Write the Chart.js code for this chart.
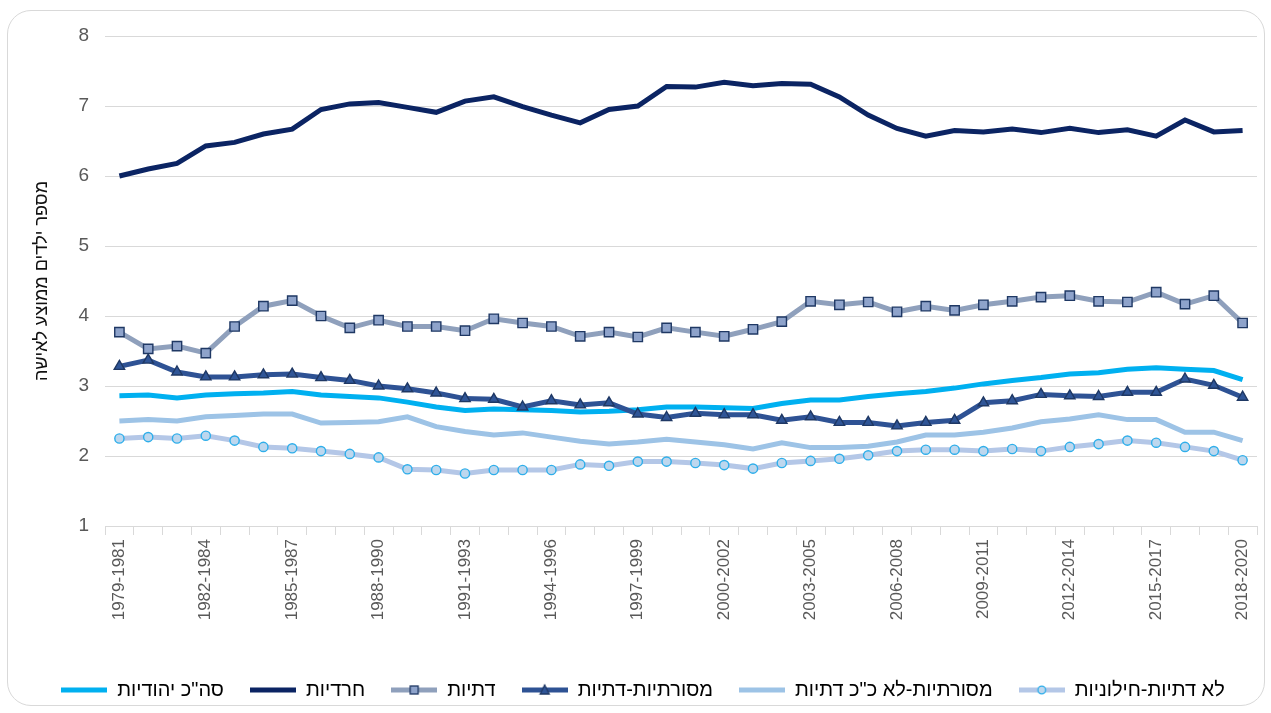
<!DOCTYPE html>
<html>
<head>
<meta charset="utf-8">
<script src="https://cdn.jsdelivr.net/npm/chart.js@4.4.1/dist/chart.umd.min.js"></script>
<style>
  html, body { margin: 0; padding: 0; background: #ffffff; }
  #card { position: absolute; left: 7px; top: 10px; width: 1258px; height: 696px; border: 1px solid #d9d9d9; border-radius: 24px; box-sizing: border-box; }
  #c { position: absolute; left: 0; top: 0; }
</style>
</head>
<body>
<div id="card"></div>
<canvas id="c" width="1271" height="713"></canvas>
<script>
const categories = [
  '1979-1981','1980-1982','1981-1983','1982-1984','1983-1985','1984-1986','1985-1987','1986-1988','1987-1989','1988-1990',
  '1989-1991','1990-1992','1991-1993','1992-1994','1993-1995','1994-1996','1995-1997','1996-1998','1997-1999','1998-2000',
  '1999-2001','2000-2002','2001-2003','2002-2004','2003-2005','2004-2006','2005-2007','2006-2008','2007-2009','2008-2010',
  '2009-2011','2010-2012','2011-2013','2012-2014','2013-2015','2014-2016','2015-2017','2016-2018','2017-2019','2018-2020'
];
const seriesNames = ['סה"כ יהודיות', 'חרדיות', 'דתיות', 'מסורתיות-דתיות', 'מסורתיות-לא כ"כ דתיות', 'לא דתיות-חילוניות'];
const totalJewish = [2.86,2.87,2.83,2.87,2.89,2.90,2.92,2.87,2.85,2.83,2.77,2.70,2.65,2.67,2.66,2.65,2.63,2.64,2.66,2.70,
                     2.70,2.69,2.68,2.75,2.80,2.80,2.85,2.89,2.92,2.97,3.03,3.08,3.12,3.17,3.19,3.24,3.26,3.24,3.22,3.09];
const haredi = [6.00,6.10,6.18,6.43,6.48,6.60,6.67,6.95,7.03,7.05,6.98,6.91,7.07,7.13,6.99,6.87,6.76,6.95,7.00,7.28,
                7.27,7.34,7.29,7.32,7.31,7.13,6.87,6.68,6.57,6.65,6.63,6.67,6.62,6.68,6.62,6.66,6.57,6.80,6.63,6.65];
const datiyot = [3.77,3.53,3.57,3.47,3.85,4.14,4.22,4.00,3.83,3.94,3.85,3.85,3.79,3.96,3.90,3.85,3.71,3.77,3.70,3.83,
                 3.77,3.71,3.81,3.92,4.21,4.16,4.20,4.06,4.14,4.08,4.16,4.21,4.27,4.29,4.21,4.20,4.34,4.17,4.29,3.90];
const masortiyotDatiyot = [3.28,3.37,3.20,3.13,3.13,3.16,3.17,3.12,3.08,3.00,2.96,2.90,2.82,2.81,2.70,2.79,2.73,2.76,2.60,2.55,
                           2.61,2.59,2.59,2.51,2.56,2.48,2.48,2.43,2.48,2.51,2.76,2.79,2.88,2.86,2.85,2.91,2.91,3.10,3.01,2.84];
const masortiyotLo = [2.50,2.52,2.50,2.56,2.58,2.60,2.60,2.47,2.48,2.49,2.56,2.42,2.35,2.30,2.33,2.27,2.21,2.17,2.20,2.24,
                      2.20,2.16,2.10,2.19,2.12,2.12,2.14,2.20,2.30,2.30,2.34,2.40,2.49,2.53,2.59,2.52,2.52,2.34,2.34,2.22];
const loDatiyot = [2.25,2.27,2.25,2.29,2.22,2.13,2.11,2.07,2.03,1.98,1.81,1.80,1.75,1.80,1.80,1.80,1.88,1.86,1.92,1.92,
                   1.90,1.87,1.82,1.90,1.93,1.96,2.01,2.07,2.09,2.09,2.07,2.10,2.07,2.13,2.17,2.22,2.19,2.13,2.07,1.94];
const yTicks = [1,2,3,4,5,6,7,8];
const yTitle = 'מספר ילדים ממוצע לאישה';

const FONT = '"Liberation Sans", Arial, "DejaVu Sans", sans-serif';

const styles = [
  {line:'#00B0F0', marker:'none'},
  {line:'#0B2463', marker:'none'},
  {line:'#8FA0BC', marker:'rect', fill:'#8EA3CB', border:'#1F3864', r:6.6},
  {line:'#2E5294', marker:'triangle', fill:'#2F5597', border:'#1F3864', r:6},
  {line:'#9DC3E6', marker:'none'},
  {line:'#B4C7E7', marker:'circle', fill:'#BDD7EE', border:'#2EAEEA', r:4.6}
];
const allData = [totalJewish, haredi, datiyot, masortiyotDatiyot, masortiyotLo, loDatiyot];

function legendImage(s) {
  const cv = document.createElement('canvas');
  cv.width = 46; cv.height = 16;
  const g = cv.getContext('2d');
  g.strokeStyle = s.line; g.lineWidth = 5; g.lineCap = 'butt';
  g.beginPath(); g.moveTo(0, 8); g.lineTo(46, 8); g.stroke();
  g.fillStyle = s.fill || s.line; g.strokeStyle = s.border || s.line; g.lineWidth = 1.3;
  if (s.marker === 'rect') { g.fillRect(19, 4, 8, 8); g.strokeRect(19, 4, 8, 8); }
  if (s.marker === 'triangle') { g.beginPath(); g.moveTo(23, 3); g.lineTo(27.5, 12); g.lineTo(18.5, 12); g.closePath(); g.fill(); g.stroke(); }
  if (s.marker === 'circle') { g.beginPath(); g.arc(23, 8, 3.8, 0, Math.PI*2); g.fill(); g.stroke(); }
  return cv;
}
const legendImgs = styles.map(legendImage);

const datasets = allData.map((d, i) => {
  const s = styles[i];
  return {
    label: seriesNames[i],
    data: d,
    borderColor: s.line,
    backgroundColor: s.line,
    borderWidth: 5,
    tension: 0,
    pointStyle: s.marker === 'none' ? false : s.marker,
    pointRadius: s.marker === 'none' ? 0 : s.r,
    pointBackgroundColor: s.fill || s.line,
    pointBorderColor: s.border || s.line,
    pointBorderWidth: 1.4,
    order: -i
  };
});

new Chart(document.getElementById('c'), {
  type: 'line',
  data: { labels: categories, datasets },
  options: {
    responsive: false,
    animation: false,
    layout: { padding: { left: 29, right: 14, top: 36, bottom: 3 } },
    scales: {
      x: {
        offset: true,
        grid: { offset: true, drawOnChartArea: false, drawTicks: true, tickLength: 9, color: '#d9d9d9' },
        border: { color: '#d9d9d9' },
        ticks: {
          autoSkip: false, minRotation: 90, maxRotation: 90, padding: 4,
          color: '#595959', font: { family: FONT, size: 17 },
          callback: (v, i) => (i % 3 === 0 ? categories[i] : '')
        },
        afterFit: (sc) => { sc.height = 128; }
      },
      y: {
        min: 1, max: 8,
        afterBuildTicks: (sc) => { sc.ticks = yTicks.map(v => ({ value: v })); },
        afterFit: (sc) => { sc.width = 76; },
        grid: { color: '#d9d9d9', drawTicks: false },
        border: { display: false },
        ticks: { color: '#595959', padding: 16, font: { family: FONT, size: 19 } },
        title: { display: true, text: yTitle, color: '#111', font: { family: FONT, size: 18 }, padding: { top: 2, bottom: 2 } }
      }
    },
    plugins: {
      tooltip: { enabled: false },
      legend: {
        position: 'bottom',
        labels: {
          usePointStyle: true,
          pointStyleWidth: 46,
          boxHeight: 16,
          padding: 26,
          color: '#000',
          font: { family: FONT, size: 20 },
          generateLabels: (chart) => chart.data.datasets.map((ds, i) => ({
            text: ds.label,
            pointStyle: legendImgs[i],
            fillStyle: ds.borderColor,
            strokeStyle: ds.borderColor,
            lineWidth: 0,
            hidden: false,
            datasetIndex: i,
            fontColor: '#000'
          }))
        }
      }
    }
  }
});
</script>
</body>
</html>
